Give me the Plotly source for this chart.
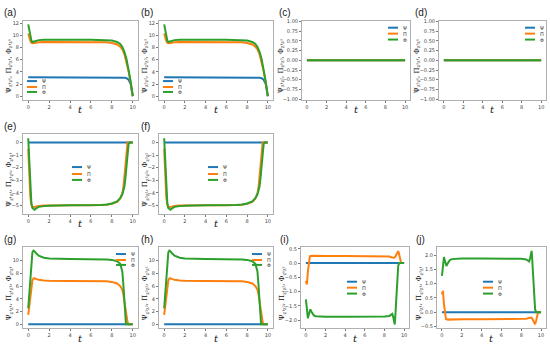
import plotly.graph_objects as go

W, H = 550, 346
BLUE, ORANGE, GREEN = '#1f77b4', '#ff7f0e', '#2ca02c'

# ---------------- data ----------------
t_ab = [0, 0.1, 0.2, 0.3, 0.4, 0.6, 0.8, 1.0, 1.5, 2, 4, 6, 7, 7.5, 8, 8.5, 8.8, 9.0, 9.2, 9.4, 9.6, 9.8, 10]
psi_a = [3.1, 3.1, 3.1, 3.1, 3.1, 3.1, 3.1, 3.1, 3.1, 3.1, 3.1, 3.1, 3.1, 3.1, 3.1, 3.1, 3.1, 3.08, 3.05, 2.95, 2.7, 2.0, 0.0]
pi_a = [10.3, 9.6, 9.1, 8.8, 8.7, 8.75, 8.82, 8.86, 8.9, 8.9, 8.9, 8.9, 8.88, 8.85, 8.75, 8.5, 8.15, 7.7, 6.9, 5.7, 4.1, 2.2, 0.0]
phi_a = [11.8, 10.7, 9.8, 9.15, 8.9, 9.0, 9.15, 9.22, 9.28, 9.3, 9.3, 9.3, 9.28, 9.25, 9.15, 8.92, 8.6, 8.1, 7.3, 6.1, 4.4, 2.4, 0.0]
psi_b = [3.1, 3.1, 3.1, 3.1, 3.1, 3.1, 3.1, 3.1, 3.1, 3.1, 3.1, 3.1, 3.1, 3.1, 3.1, 3.1, 3.1, 3.08, 3.05, 2.95, 2.7, 2.0, 0.0]
pi_b = [10.3, 9.6, 9.1, 8.8, 8.7, 8.75, 8.82, 8.86, 8.9, 8.9, 8.9, 8.9, 8.88, 8.85, 8.75, 8.5, 8.15, 7.7, 6.9, 5.7, 4.1, 2.2, 0.0]
phi_b = [11.8, 10.7, 9.8, 9.15, 8.9, 9.0, 9.15, 9.22, 9.28, 9.3, 9.3, 9.3, 9.28, 9.25, 9.15, 8.92, 8.6, 8.1, 7.3, 6.1, 4.4, 2.4, 0.0]

t_flat = [0, 10]
zeros_flat = [0, 0]

t_e_pi = [0, 0.1, 0.2, 0.3, 0.4, 0.5, 0.6, 0.8, 1.0, 1.5, 2, 4, 6, 7, 7.5, 8, 8.5, 8.8, 9.0, 9.1, 9.2, 9.3, 9.4, 9.5, 10]
pi_e = [-0.5, -2.6, -4.3, -4.95, -5.12, -5.15, -5.12, -5.07, -5.04, -5.01, -5.0, -5.0, -5.0, -4.98, -4.95, -4.88, -4.72, -4.45, -4.05, -3.6, -2.7, -1.4, -0.35, 0.0, 0.0]
t_e_phi = [0, 0.1, 0.2, 0.3, 0.4, 0.5, 0.6, 0.8, 1.0, 1.5, 2, 4, 6, 7, 7.5, 8, 8.5, 8.8, 9.0, 9.2, 9.3, 9.4, 9.5, 9.6, 9.7, 10]
phi_e = [0.35, -1.6, -3.6, -4.8, -5.2, -5.32, -5.35, -5.22, -5.12, -5.06, -5.03, -5.0, -5.0, -4.97, -4.93, -4.85, -4.68, -4.42, -4.12, -3.5, -2.8, -1.8, -0.8, -0.1, 0.0, 0.0]

t_g_pi = [0, 0.1, 0.2, 0.3, 0.4, 0.5, 0.6, 0.8, 1.0, 1.5, 2, 4, 6, 7, 7.5, 8, 8.5, 8.8, 9.0, 9.1, 9.2, 9.3, 9.4, 9.5, 9.6, 10]
pi_g = [1.5, 2.9, 4.6, 6.0, 6.9, 7.2, 7.22, 7.08, 6.98, 6.88, 6.84, 6.8, 6.8, 6.78, 6.74, 6.65, 6.4, 6.0, 5.4, 4.7, 3.6, 2.3, 1.1, 0.35, 0.0, 0.0]
t_g_phi = [0, 0.1, 0.2, 0.3, 0.4, 0.5, 0.6, 0.8, 1.0, 1.5, 2, 4, 6, 7, 7.5, 8, 8.5, 8.8, 9.0, 9.1, 9.2, 9.3, 9.35, 10]
phi_g = [2.5, 5.0, 8.0, 10.4, 11.3, 11.55, 11.45, 11.05, 10.75, 10.45, 10.32, 10.25, 10.25, 10.22, 10.18, 10.1, 9.9, 9.5, 8.3, 6.2, 3.3, 0.8, 0.0, 0.0]

t_i_pi = [0, 0.1, 0.2, 0.3, 0.4, 0.6, 1.0, 2, 4, 6, 8, 8.5, 8.8, 9.0, 9.1, 9.2, 9.3, 9.4, 9.5, 9.6, 9.7, 10]
pi_i = [-0.62, -0.75, -0.3, 0.1, 0.24, 0.26, 0.25, 0.25, 0.25, 0.25, 0.24, 0.23, 0.2, 0.19, 0.22, 0.3, 0.4, 0.42, 0.3, 0.1, 0.0, 0.0]
t_i_phi = [0, 0.1, 0.2, 0.3, 0.45, 0.6, 0.8, 1.0, 2, 4, 6, 8, 8.5, 8.7, 8.8, 8.9, 9.0, 9.05, 9.1, 9.2, 9.3, 9.4, 9.5, 10]
phi_i = [-1.27, -1.7, -1.93, -1.8, -1.62, -1.72, -1.83, -1.86, -1.88, -1.88, -1.88, -1.87, -1.85, -1.8, -1.78, -1.9, -2.12, -2.15, -1.9, -1.2, -0.5, -0.1, 0.0, 0.0]

pi_j = [0.62, 0.75, 0.3, -0.1, -0.24, -0.26, -0.25, -0.25, -0.25, -0.25, -0.24, -0.23, -0.2, -0.19, -0.22, -0.3, -0.4, -0.42, -0.3, -0.1, 0.0, 0.0]
phi_j = [1.27, 1.7, 1.93, 1.8, 1.62, 1.72, 1.83, 1.86, 1.88, 1.88, 1.88, 1.87, 1.85, 1.8, 1.78, 1.9, 2.12, 2.15, 1.9, 1.2, 0.5, 0.1, 0.0, 0.0]

series_names = ['Ψ', 'Π', 'Φ']
x_ticks = [0, 2, 4, 6, 8, 10]
panel_letters = ['(a)', '(b)', '(c)', '(d)', '(e)', '(f)', '(g)', '(h)', '(i)', '(j)']
sub_labels = ['z¹z¹', 'z²z²', 'z¹z²', 'z²z¹', 'z¹z¹', 'z²z²', 'z¹z¹', 'z²z²', 'z¹z²', 'z²z¹']

# ---------------- layout per panel ----------------
panels = [
    dict(s=[(t_ab, psi_a), (t_ab, pi_a), (t_ab, phi_a)], box=(23, 138, 19, 99), yr=[-0.6, 12.4],
         yt=[0, 2, 4, 6, 8, 10, 12], fmt='d', tx=9, lx=27, ly=[80, 86, 91], lab=2),
    dict(s=[(t_ab, psi_b), (t_ab, pi_b), (t_ab, phi_b)], box=(159, 273, 19, 99), yr=[-0.6, 12.4],
         yt=[0, 2, 4, 6, 8, 10, 12], fmt='d', tx=145, lx=163, ly=[80, 86, 91], lab=139),
    dict(s=[(t_flat, zeros_flat)] * 3, box=(302, 410, 19, 99), yr=[-1.02, 1.02],
         yt=[-1, -0.75, -0.5, -0.25, 0, 0.25, 0.5, 0.75, 1], fmt='.2f', tx=281, lx=388, ly=[26, 32, 38], lab=277),
    dict(s=[(t_flat, zeros_flat)] * 3, box=(439, 546, 19, 99), yr=[-1.02, 1.02],
         yt=[-1, -0.75, -0.5, -0.25, 0, 0.25, 0.5, 0.75, 1], fmt='.2f', tx=417, lx=525, ly=[26, 32, 38], lab=413),
    dict(s=[(t_flat, zeros_flat), (t_e_pi, pi_e), (t_e_phi, phi_e)], box=(23, 138, 134, 214), yr=[-5.65, 0.65],
         yt=[0, -1, -2, -3, -4, -5], fmt='d', tx=9, lx=72, ly=[167, 174, 180], lab=2),
    dict(s=[(t_flat, zeros_flat), (t_e_pi, pi_e), (t_e_phi, phi_e)], box=(159, 273, 134, 214), yr=[-5.65, 0.65],
         yt=[0, -1, -2, -3, -4, -5], fmt='d', tx=145, lx=208, ly=[167, 174, 180], lab=139),
    dict(s=[(t_flat, zeros_flat), (t_g_pi, pi_g), (t_g_phi, phi_g)], box=(23, 138, 248, 330), yr=[-0.6, 12.1],
         yt=[0, 2, 4, 6, 8, 10], fmt='d', tx=9, lx=116, ly=[255, 261, 266], lab=2),
    dict(s=[(t_flat, zeros_flat), (t_g_pi, pi_g), (t_g_phi, phi_g)], box=(159, 273, 248, 330), yr=[-0.6, 12.1],
         yt=[0, 2, 4, 6, 8, 10], fmt='d', tx=145, lx=252, ly=[255, 261, 266], lab=139),
    dict(s=[(t_flat, zeros_flat), (t_i_pi, pi_i), (t_i_phi, phi_i)], box=(301, 409, 248, 330), yr=[-2.28, 0.56],
         yt=[0.5, 0, -0.5, -1, -1.5, -2], fmt='.1f', tx=282, lx=347, ly=[283, 289, 295], lab=278),
    dict(s=[(t_flat, zeros_flat), (t_i_pi, pi_j), (t_i_phi, phi_j)], box=(437, 546, 248, 330), yr=[-0.56, 2.28],
         yt=[-0.5, 0, 0.5, 1, 1.5, 2], fmt='.1f', tx=419, lx=483, ly=[283, 289, 295], lab=414),
]

colors = [BLUE, ORANGE, GREEN]

fig = go.Figure()
layout = dict(width=W, height=H, margin=dict(l=0, r=0, t=0, b=0),
              paper_bgcolor='white', plot_bgcolor='white', showlegend=False)
shapes, annotations = [], []


def px(x):
    return x / W


def py(y):
    return 1 - y / H


for k, p in enumerate(panels, start=1):
    x0, x1, y0, y1 = p['box']
    xa = 'x' if k == 1 else f'x{k}'
    ya = 'y' if k == 1 else f'y{k}'
    for (tt, vv), c, nm in zip(p['s'], colors, series_names):
        fig.add_trace(go.Scatter(x=tt, y=vv, mode='lines', name=nm, xaxis=xa, yaxis=ya,
                                 line=dict(color=c, width=2), hoverinfo='skip'))
    axstyle = dict(showline=True, mirror=True, linecolor='#b0b0b0', linewidth=1,
                   showgrid=False, zeroline=False, ticks='outside', ticklen=2, tickwidth=0.8,
                   tickcolor='#777', tickfont=dict(family='DejaVu Sans', size=5, color='#444'))
    layout['xaxis' if k == 1 else f'xaxis{k}'] = dict(
        domain=[px(x0), px(x1)], anchor=ya, range=[-0.5, 10.5], tickvals=x_ticks, **axstyle)
    layout['yaxis' if k == 1 else f'yaxis{k}'] = dict(
        domain=[py(y1), py(y0)], anchor=xa, range=p['yr'], tickvals=p['yt'],
        tickformat=p['fmt'], **axstyle)

    # panel letter
    annotations.append(dict(text=panel_letters[k - 1], x=px(p['lab']),
                            y=py(y0 - 8), xref='paper', yref='paper', xanchor='left', yanchor='middle',
                            showarrow=False, font=dict(family='Liberation Sans', size=10, color='#222')))
    # y title
    s = sub_labels[k - 1]
    annotations.append(dict(text=f'Ψ<sub>{s}</sub>, Π<sub>{s}</sub>, Φ<sub>{s}</sub>',
                            x=px(p['tx']), y=py((y0 + y1) / 2 + 6), xref='paper', yref='paper',
                            textangle=-90, showarrow=False, xanchor='center', yanchor='middle',
                            font=dict(family='DejaVu Serif', size=7, color='#111')))
    # x title
    annotations.append(dict(text='<i>t</i>', x=px((x0 + x1) / 2), y=py(y1 + 10), xref='paper',
                            yref='paper', showarrow=False, xanchor='center', yanchor='middle',
                            font=dict(family='DejaVu Serif', size=10, color='#111')))
    # legend
    for c, nm, ly in zip(colors, series_names, p['ly']):
        shapes.append(dict(type='line', xref='paper', yref='paper', x0=px(p['lx']), x1=px(p['lx'] + 10),
                           y0=py(ly), y1=py(ly), line=dict(color=c, width=2)))
        annotations.append(dict(text=nm, x=px(p['lx'] + 13), y=py(ly), xref='paper', yref='paper',
                                xanchor='left', yanchor='middle', showarrow=False,
                                font=dict(family='DejaVu Sans', size=5, color='#333')))

layout['shapes'] = shapes
layout['annotations'] = annotations
fig.update_layout(**layout)
fig.write_html('out.html', config={'displayModeBar': False},
               post_script="document.body.style.margin='0';")
